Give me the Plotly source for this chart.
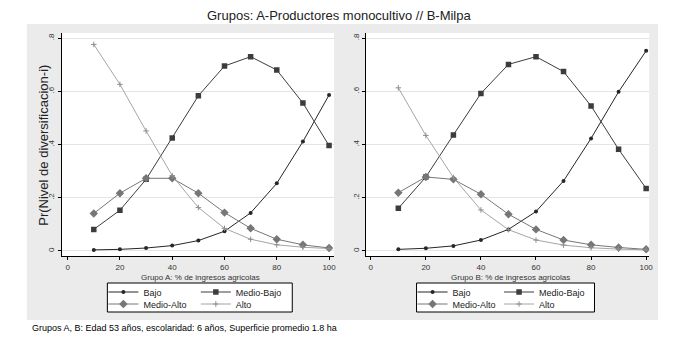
import plotly.graph_objects as go

W, H = 681, 348

x_vals = [10, 20, 30, 40, 50, 60, 70, 80, 90, 100]

# Group A: Productores monocultivo
a_bajo = [0.004, 0.006, 0.011, 0.020, 0.039, 0.074, 0.143, 0.254, 0.411, 0.586]
a_medio_bajo = [0.081, 0.153, 0.269, 0.424, 0.583, 0.695, 0.730, 0.680, 0.556, 0.396]
a_medio_alto = [0.141, 0.217, 0.273, 0.273, 0.217, 0.144, 0.085, 0.044, 0.023, 0.011]
a_alto = [0.776, 0.626, 0.451, 0.283, 0.163, 0.085, 0.044, 0.023, 0.014, 0.009]

# Group B: Milpa
b_bajo = [0.006, 0.010, 0.019, 0.041, 0.081, 0.148, 0.263, 0.423, 0.598, 0.752]
b_medio_bajo = [0.160, 0.278, 0.436, 0.592, 0.701, 0.730, 0.674, 0.545, 0.382, 0.235]
b_medio_alto = [0.219, 0.278, 0.269, 0.213, 0.138, 0.081, 0.041, 0.023, 0.013, 0.006]
b_alto = [0.613, 0.434, 0.276, 0.154, 0.080, 0.041, 0.022, 0.012, 0.007, 0.004]

series_names = ["Bajo", "Medio-Bajo", "Medio-Alto", "Alto"]
x_ticks = [0, 20, 40, 60, 80, 100]
y_ticks = [0, 0.2, 0.4, 0.6, 0.8]
y_tick_text = ["0", ".2", ".4", ".6", ".8"]

title = "Grupos: A-Productores monocultivo // B-Milpa"
y_title = "Pr(Nivel de diversificacion-i)"
x_title_a = "Grupo A: % de ingresos agricolas"
x_title_b = "Grupo B: % de ingresos agricolas"
footnote = "Grupos A, B: Edad 53 años, escolaridad: 6 años, Superficie promedio 1.8 ha"

FONT = "Liberation Sans, Arial, sans-serif"

styles = {
    "Bajo": dict(color="#262626", symbol="circle", size=4, lw=1.0),
    "Medio-Bajo": dict(color="#3c3c3c", symbol="square", size=5.5, lw=1.0),
    "Medio-Alto": dict(color="#767676", symbol="diamond", size=6.5, lw=1.0),
    "Alto": dict(color="#8e8e8e", symbol="cross-thin", size=4, lw=0.8),
}

def px_x(p):
    return p / W

def px_y(p):
    return 1 - p / H

fig = go.Figure()

panels = [
    ("x", "y", [a_bajo, a_medio_bajo, a_medio_alto, a_alto], ["legend", "legend2", "legend3", "legend4"]),
    ("x2", "y2", [b_bajo, b_medio_bajo, b_medio_alto, b_alto], ["legend5", "legend6", "legend7", "legend8"]),
]

for xa, ya, data, legs in panels:
    for name, vals, leg in zip(series_names, data, legs):
        s = styles[name]
        marker = dict(color=s["color"], symbol=s["symbol"], size=s["size"])
        if s["symbol"] == "cross-thin":
            marker["line"] = dict(color=s["color"], width=1)
        fig.add_trace(go.Scatter(
            x=x_vals, y=vals, name=name, mode="lines+markers",
            line=dict(color=s["color"], width=s["lw"]),
            marker=marker, xaxis=xa, yaxis=ya, legend=leg, showlegend=True,
        ))

# plot areas in pixels
A = dict(l=62, r=336, t=33, b=256)
B = dict(l=368, r=653, t=33, b=256)

axis_common = dict(
    showline=True, linecolor="black", linewidth=1, ticks="outside", ticklen=3,
    tickcolor="black", tickfont=dict(family=FONT, size=8, color="#333333"),
    zeroline=False, mirror=False,
)

fig.update_layout(
    width=W, height=H,
    margin=dict(l=0, r=0, t=0, b=0),
    paper_bgcolor="white", plot_bgcolor="rgba(0,0,0,0)",
    font=dict(family=FONT, color="black"),
    xaxis=dict(domain=[px_x(A["l"]), px_x(A["r"])], range=[-2.3, 101.9], tickvals=x_ticks,
               showgrid=False, anchor="y", **axis_common),
    yaxis=dict(domain=[px_y(A["b"]), px_y(A["t"])], range=[-0.019, 0.819], tickvals=y_ticks,
               ticktext=y_tick_text, tickangle=-90, showgrid=True, gridcolor="#e4e4e4",
               gridwidth=1, anchor="x", **axis_common),
    xaxis2=dict(domain=[px_x(B["l"]), px_x(B["r"])], range=[-1.8, 101.1], tickvals=x_ticks,
                showgrid=False, anchor="y2", **axis_common),
    yaxis2=dict(domain=[px_y(B["b"]), px_y(B["t"])], range=[-0.019, 0.819], tickvals=y_ticks,
                ticktext=y_tick_text, tickangle=-90, showgrid=True, gridcolor="#e4e4e4",
                gridwidth=1, anchor="x2", **axis_common),
)

shapes = [
    dict(type="rect", xref="paper", yref="paper", x0=px_x(27), x1=px_x(662), y0=px_y(320), y1=px_y(24),
         fillcolor="#ebebeb", line=dict(width=0), layer="below"),
    dict(type="rect", xref="paper", yref="paper", x0=px_x(A["l"]), x1=px_x(A["r"]), y0=px_y(A["b"]), y1=px_y(A["t"]),
         fillcolor="white", line=dict(width=0), layer="below"),
    dict(type="rect", xref="paper", yref="paper", x0=px_x(B["l"]), x1=px_x(B["r"]), y0=px_y(B["b"]), y1=px_y(B["t"]),
         fillcolor="white", line=dict(width=0), layer="below"),
    dict(type="rect", xref="paper", yref="paper", x0=px_x(108), x1=px_x(294), y0=px_y(312), y1=px_y(283),
         fillcolor="white", line=dict(width=1, color="black"), layer="below"),
    dict(type="rect", xref="paper", yref="paper", x0=px_x(419), x1=px_x(598), y0=px_y(312), y1=px_y(283),
         fillcolor="white", line=dict(width=1, color="black"), layer="below"),
]
fig.update_layout(shapes=shapes)

# legends: one per entry for exact Stata-like placement
row1, row2 = 292, 304
leg_pos = {
    "legend": (104, row1), "legend2": (197, row1), "legend3": (104, row2), "legend4": (197, row2),
    "legend5": (415, row1), "legend6": (502, row1), "legend7": (415, row2), "legend8": (502, row2),
}
for key, (lx, ly) in leg_pos.items():
    fig.update_layout({key: dict(
        x=px_x(lx), y=px_y(ly), xanchor="left", yanchor="middle",
        bgcolor="rgba(0,0,0,0)", borderwidth=0,
        font=dict(family=FONT, size=9, color="#222222"),
        orientation="v", itemwidth=30,
    )})

annotations = [
    dict(text=title, x=0.5, y=px_y(16), xref="paper", yref="paper", showarrow=False,
         font=dict(family=FONT, size=13, color="#222222"), xanchor="center", yanchor="middle"),
    dict(text=y_title, x=px_x(43), y=px_y(145), xref="paper", yref="paper", showarrow=False,
         textangle=-90, font=dict(family=FONT, size=13, color="#222222"), xanchor="center", yanchor="middle"),
    dict(text=x_title_a, x=px_x((A["l"] + A["r"]) / 2 + 3), y=px_y(277), xref="paper", yref="paper",
         showarrow=False, font=dict(family=FONT, size=8, color="#333333"), xanchor="center", yanchor="middle"),
    dict(text=x_title_b, x=px_x((B["l"] + B["r"]) / 2 + 3), y=px_y(277), xref="paper", yref="paper",
         showarrow=False, font=dict(family=FONT, size=8, color="#333333"), xanchor="center", yanchor="middle"),
    dict(text=footnote, x=px_x(30), y=px_y(328), xref="paper", yref="paper", showarrow=False,
         font=dict(family=FONT, size=9, color="black"), xanchor="left", yanchor="middle"),
]
fig.update_layout(annotations=annotations)

fig.write_html("out.html")
